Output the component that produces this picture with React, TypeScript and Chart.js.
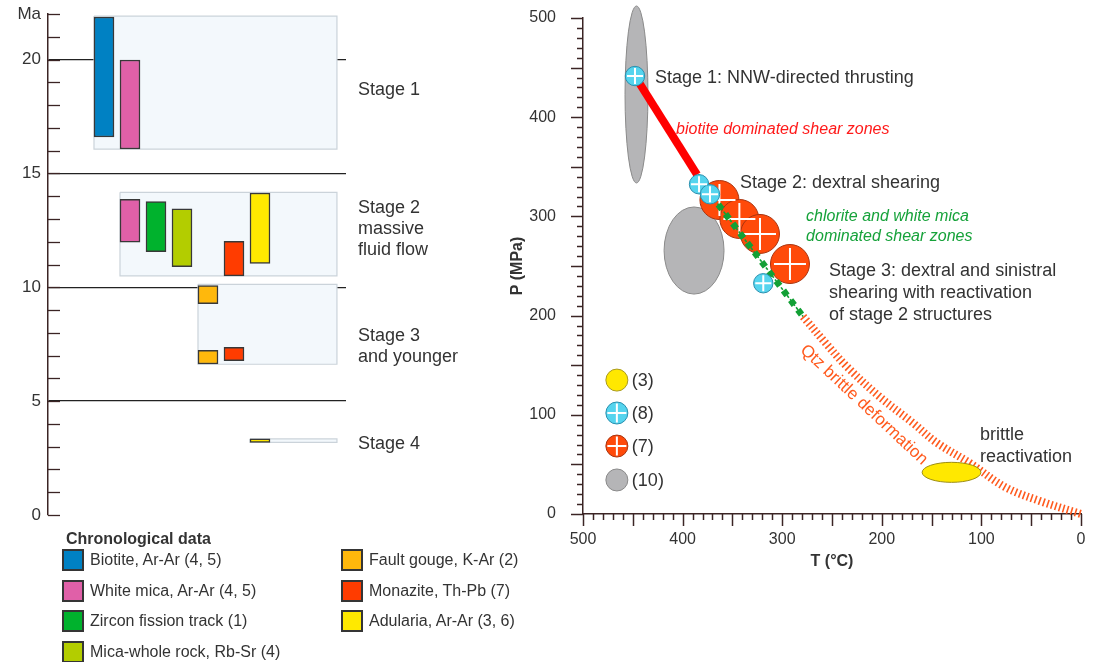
import React, { useEffect, useRef } from 'react';
import { Chart, registerables } from 'chart.js';

Chart.register(...registerables);

const FONT = '"Liberation Sans", Arial, Helvetica, sans-serif';
const TEXT = '#333333';
const AXIS = '#3b2424';

// ---------------- LEFT PANEL DATA (ages in Ma) ----------------
const mineralLabels = [
  'Biotite, Ar-Ar (4, 5)',
  'White mica, Ar-Ar (4, 5)',
  'Zircon fission track (1)',
  'Mica-whole rock, Rb-Sr (4)',
  'Fault gouge, K-Ar (2)',
  'Monazite, Th-Pb (7)',
  'Adularia, Ar-Ar (3, 6)',
];
const mineralColors = ['#0081c3', '#e060a8', '#00b22d', '#b3cd00', '#ffb80c', '#ff3c00', '#ffe900'];
const mineralColumn = [0, 1, 2, 3, 4, 5, 6];
const biotiteAges = [[16.6, 21.87]];
const whiteMicaAges = [[16.07, 19.98], [11.98, 13.86]];
const zirconAges = [[11.56, 13.76]];
const micaRockAges = [[10.9, 13.44]];
const gougeAges = [[9.28, 10.07], [6.63, 7.23]];
const monaziteAges = [[10.5, 12.02], [6.78, 7.36]];
const adulariaAges = [[11.05, 14.14], [3.19, 3.34]];
const mineralAges = [biotiteAges, whiteMicaAges, zirconAges, micaRockAges, gougeAges, monaziteAges, adulariaAges];

const stageLines = [['Stage 1'], ['Stage 2', 'massive', 'fluid flow'], ['Stage 3', 'and younger'], ['Stage 4']];
const stageFirstColumn = [0, 1, 4, 6];
const stageLastColumn = [8.96, 8.96, 8.96, 8.96];
const stageTop = [21.91, 14.17, 10.13, 3.34];
const stageBottom = [16.07, 10.5, 6.62, 3.19];
const stageLabelAge = [18.66, 13.48, 7.86, 3.12];

const ageMin = 0;
const ageMax = 22;
const ageMajor = [5, 10, 15, 20];

// ---------------- RIGHT PANEL DATA (T in °C, P in MPa) ----------------
const cyanT = [447.8, 383.5, 372.5, 319];
const cyanP = [441.5, 332.4, 322.3, 232.6];
const redT = [363, 343, 322.3, 292.2];
const redP = [316.5, 297.4, 282.3, 252];
const grayEllT = [446.3, 388.5];
const grayEllP = [422.9, 265.6];
const grayEllRT = [11.5, 30.1];
const grayEllRP = [89.2, 43.9];
const yellowEllT = [130];
const yellowEllP = [42];
const yellowEllRT = [29.5];
const yellowEllRP = [10.1];
const biotitePathT = [447.8, 385.5];
const biotitePathP = [441.5, 342];
const chloritePathT = [386, 279];
const chloritePathP = [341, 199];
const qtzPathT = [279, 257, 235, 202, 169, 145, 111, 76, 41, 0];
const qtzPathP = [199, 173, 148.5, 118, 92, 72, 51, 27, 13, 0];
const legendT = [466, 466, 466, 466];
const legendP = [135, 101.8, 68.5, 34.3];
const legendLabels = ['(3)', '(8)', '(7)', '(10)'];

const noteText = [
  ['Stage 1: NNW-directed thrusting'],
  ['biotite dominated shear zones'],
  ['Stage 2: dextral shearing'],
  ['chlorite and white mica', 'dominated shear zones'],
  ['Stage 3: dextral and sinistral', 'shearing with reactivation', 'of stage 2 structures'],
  ['brittle', 'reactivation'],
];
const noteT = [427.7, 406.6, 342.4, 276, 253, 101.4];
const noteP = [439.5, 388, 333.7, 299.4, 245, 79.6];
const noteColor = [TEXT, '#ff1a1a', TEXT, '#16a23a', TEXT, TEXT];
const noteItalic = [false, true, false, true, false, false];
const qtzLabel = 'Qtz brittle deformation';
const qtzLabelT = 218;
const qtzLabelP = 110;

const COLOR_CYAN = '#55d4ee';
const COLOR_RED = '#ff4a0a';
const COLOR_GRAY = '#b5b5b7';
const COLOR_YELLOW = '#ffe800';
const COLOR_QTZ = '#ff5a1e';
const COLOR_GREEN = '#12a035';

const BAR_HALF = 0.385;

// ---------------- LEFT CHART ----------------
function leftConfig(): any {
  const boxFills = stageTop.map((top, i) => ({
    type: 'line',
    data: [
      { x: stageFirstColumn[i] - BAR_HALF, y: top },
      { x: stageLastColumn[i], y: top },
    ],
    fill: { value: stageBottom[i] },
    backgroundColor: '#f3f8fc',
    borderWidth: 0,
    borderColor: 'rgba(0,0,0,0)',
    pointRadius: 0,
    order: 20,
  }));
  const boxOutlines = stageTop.map((top, i) => {
    const l = stageFirstColumn[i] - BAR_HALF;
    const r = stageLastColumn[i];
    const b = stageBottom[i];
    return {
      type: 'line',
      data: [
        { x: l, y: top },
        { x: r, y: top },
        { x: r, y: b },
        { x: l, y: b },
        { x: l, y: top },
      ],
      fill: false,
      borderColor: '#cbd3da',
      borderWidth: 1.2,
      pointRadius: 0,
      tension: 0,
      order: 19,
    };
  });
  const bars = mineralAges.map((ages, i) => ({
    type: 'bar',
    label: mineralLabels[i],
    data: ages.map((a) => ({ x: mineralColumn[i], y: a })),
    backgroundColor: mineralColors[i],
    borderColor: '#383838',
    borderWidth: 1.5,
    borderSkipped: false,
    barThickness: 20,
    grouped: false,
    order: 1,
  }));

  const decor = {
    id: 'leftDecor',
    afterDraw(chart: any) {
      const { ctx, chartArea } = chart;
      const y = chart.scales.y;
      ctx.save();
      ctx.strokeStyle = AXIS;
      ctx.lineWidth = 1.3;
      for (let v = ageMin; v <= ageMax; v++) {
        const py = Math.round(y.getPixelForValue(v)) + 0.5;
        ctx.beginPath();
        ctx.moveTo(chartArea.left, py);
        ctx.lineTo(chartArea.left + 12, py);
        ctx.stroke();
      }
      ctx.fillStyle = TEXT;
      ctx.font = `18px ${FONT}`;
      ctx.textAlign = 'left';
      ctx.textBaseline = 'middle';
      stageLines.forEach((lines, i) => {
        const py = y.getPixelForValue(stageLabelAge[i]);
        lines.forEach((t, j) => ctx.fillText(t, chartArea.right + 12, py + j * 21));
      });
      ctx.restore();
    },
  };

  return {
    type: 'bar',
    data: { datasets: [...boxFills, ...boxOutlines, ...bars] },
    options: {
      responsive: false,
      animation: false,
      layout: { autoPadding: false, padding: { left: 0, right: 203, top: 14, bottom: 147 } },
      plugins: { legend: { display: false }, tooltip: { enabled: false } },
      scales: {
        x: { type: 'linear', min: -2.154, max: 9.308, display: false, offset: false },
        y: {
          type: 'linear',
          min: ageMin,
          max: ageMax,
          afterFit: (s: any) => {
            s.width = 48;
          },
          border: { display: true, color: AXIS, width: 1.5 },
          grid: {
            drawTicks: true,
            tickLength: 7,
            tickColor: 'rgba(0,0,0,0)',
            lineWidth: 1.3,
            color: (c: any) =>
              c.tick && ageMajor.includes(c.tick.value) ? '#222222' : 'rgba(0,0,0,0)',
          },
          ticks: {
            stepSize: 1,
            autoSkip: false,
            padding: 0,
            color: TEXT,
            font: { family: FONT, size: 17 },
            callback: (v: number) => (v === ageMax ? 'Ma' : v % 5 === 0 ? String(v) : ''),
          },
        },
      },
    },
    plugins: [decor],
  };
}

// ---------------- RIGHT CHART ----------------
function rightConfig(): any {
  const pts = (ts: number[], ps: number[]) => ts.map((t, i) => ({ x: t, y: ps[i] }));
  const datasets: any[] = [
    {
      type: 'line',
      data: pts(biotitePathT, biotitePathP),
      borderColor: '#ff0000',
      borderWidth: 8,
      borderCapStyle: 'butt',
      pointRadius: 0,
      fill: false,
      order: 10,
    },
    {
      data: pts(redT, redP),
      pointStyle: 'circle',
      pointRadius: 19.5,
      pointHoverRadius: 19.5,
      pointBackgroundColor: COLOR_RED,
      pointBorderColor: '#a83410',
      pointBorderWidth: 1,
      order: 9,
    },
    {
      data: pts(redT, redP),
      pointStyle: 'cross',
      pointRadius: 16,
      pointHoverRadius: 16,
      pointBorderColor: '#ffffff',
      pointBorderWidth: 2,
      order: 8,
    },
    {
      type: 'line',
      data: pts(chloritePathT, chloritePathP),
      borderColor: COLOR_GREEN,
      borderWidth: 1.6,
      borderDash: [3, 2],
      pointRadius: 0,
      fill: false,
      order: 7,
    },
    {
      type: 'line',
      data: pts(chloritePathT, chloritePathP),
      borderColor: COLOR_GREEN,
      borderWidth: 6.5,
      borderDash: [6, 6],
      borderCapStyle: 'butt',
      pointRadius: 0,
      fill: false,
      order: 6,
    },
    {
      type: 'line',
      data: pts(qtzPathT, qtzPathP),
      borderColor: COLOR_QTZ,
      borderWidth: 8,
      borderDash: [1.6, 2.6],
      borderCapStyle: 'butt',
      tension: 0.35,
      pointRadius: 0,
      fill: false,
      order: 6,
    },
    {
      data: pts(cyanT, cyanP),
      pointStyle: 'circle',
      pointRadius: 9.7,
      pointHoverRadius: 9.7,
      pointBackgroundColor: COLOR_CYAN,
      pointBorderColor: '#2a8fae',
      pointBorderWidth: 1,
      order: 3,
    },
    {
      data: pts(cyanT, cyanP),
      pointStyle: 'cross',
      pointRadius: 8,
      pointHoverRadius: 8,
      pointBorderColor: '#ffffff',
      pointBorderWidth: 2,
      order: 2,
    },
    {
      data: pts(legendT, legendP),
      pointStyle: 'circle',
      pointRadius: 11,
      pointHoverRadius: 11,
      pointBackgroundColor: [COLOR_YELLOW, COLOR_CYAN, COLOR_RED, COLOR_GRAY],
      pointBorderColor: ['#a99a22', '#2a8fae', '#a83410', '#8a8a8a'],
      pointBorderWidth: 1,
      order: 1,
    },
    {
      data: pts(legendT.slice(1, 3), legendP.slice(1, 3)),
      pointStyle: 'cross',
      pointRadius: 9.5,
      pointHoverRadius: 9.5,
      pointBorderColor: '#ffffff',
      pointBorderWidth: 2,
      order: 0,
    },
  ];
  datasets.forEach((d) => (d.clip = false));

  const drawEllipses = (chart: any, ts: number[], ps: number[], rts: number[], rps: number[], fill: string, stroke: string) => {
    const { ctx } = chart;
    const xs = chart.scales.x;
    const ys = chart.scales.y;
    ctx.save();
    ts.forEach((t, i) => {
      const cx = xs.getPixelForValue(t);
      const cy = ys.getPixelForValue(ps[i]);
      const rx = Math.abs(xs.getPixelForValue(t + rts[i]) - cx);
      const ry = Math.abs(ys.getPixelForValue(ps[i] + rps[i]) - cy);
      ctx.beginPath();
      ctx.ellipse(cx, cy, rx, ry, 0, 0, Math.PI * 2);
      ctx.fillStyle = fill;
      ctx.fill();
      ctx.strokeStyle = stroke;
      ctx.lineWidth = 1;
      ctx.stroke();
    });
    ctx.restore();
  };

  const decor = {
    id: 'rightDecor',
    beforeDatasetsDraw(chart: any) {
      drawEllipses(chart, grayEllT, grayEllP, grayEllRT, grayEllRP, COLOR_GRAY, '#8a8a8a');
    },
    afterDatasetsDraw(chart: any) {
      drawEllipses(chart, yellowEllT, yellowEllP, yellowEllRT, yellowEllRP, COLOR_YELLOW, '#9c8d14');
    },
    afterDraw(chart: any) {
      const { ctx, chartArea } = chart;
      const xs = chart.scales.x;
      const ys = chart.scales.y;
      ctx.save();
      ctx.strokeStyle = AXIS;
      ctx.lineWidth = 1.5;
      for (let v = 0; v <= 500; v += 10) {
        const len = v % 50 === 0 ? 12 : 6;
        const px = Math.round(xs.getPixelForValue(v)) + 0.5;
        ctx.beginPath();
        ctx.moveTo(px, chartArea.bottom);
        ctx.lineTo(px, chartArea.bottom + len);
        ctx.stroke();
        const py = Math.round(ys.getPixelForValue(v)) + 0.5;
        ctx.beginPath();
        ctx.moveTo(chartArea.left, py);
        ctx.lineTo(chartArea.left - len, py);
        ctx.stroke();
      }
      ctx.textAlign = 'left';
      ctx.textBaseline = 'middle';
      noteText.forEach((lines, i) => {
        const x = xs.getPixelForValue(noteT[i]);
        const y = ys.getPixelForValue(noteP[i]);
        ctx.fillStyle = noteColor[i];
        ctx.font = noteItalic[i] ? `italic 16px ${FONT}` : `18px ${FONT}`;
        const lh = noteItalic[i] ? 20 : 22;
        lines.forEach((t, j) => ctx.fillText(t, x, y + j * lh));
      });
      ctx.fillStyle = TEXT;
      ctx.font = `18px ${FONT}`;
      legendLabels.forEach((t, i) => {
        ctx.fillText(t, xs.getPixelForValue(legendT[i]) + 15, ys.getPixelForValue(legendP[i]) + 1);
      });
      ctx.save();
      ctx.translate(xs.getPixelForValue(qtzLabelT), ys.getPixelForValue(qtzLabelP));
      ctx.rotate((43 * Math.PI) / 180);
      ctx.textAlign = 'center';
      ctx.fillStyle = COLOR_QTZ;
      ctx.font = `17px ${FONT}`;
      ctx.fillText(qtzLabel, 0, 0);
      ctx.restore();
      ctx.restore();
    },
  };

  return {
    type: 'scatter',
    data: { datasets },
    options: {
      responsive: false,
      animation: false,
      layout: { autoPadding: false, padding: { left: 0, right: 17, top: 18, bottom: 0 } },
      plugins: { legend: { display: false }, tooltip: { enabled: false } },
      scales: {
        x: {
          type: 'linear',
          reverse: true,
          min: 0,
          max: 500,
          afterFit: (s: any) => {
            s.height = 148;
          },
          border: { display: true, color: AXIS, width: 1.5 },
          grid: { display: true, drawOnChartArea: false, drawTicks: true, tickLength: 16, tickColor: 'rgba(0,0,0,0)' },
          ticks: {
            stepSize: 10,
            autoSkip: false,
            maxRotation: 0,
            padding: 0,
            color: TEXT,
            font: { family: FONT, size: 16 },
            callback: (v: number) => (v % 100 === 0 ? String(v) : ''),
          },
          title: {
            display: true,
            text: 'T (°C)',
            color: TEXT,
            font: { family: FONT, size: 16, weight: 'bold' },
            padding: { top: 0, bottom: 91 },
          },
        },
        y: {
          type: 'linear',
          min: 0,
          max: 500,
          afterFit: (s: any) => {
            s.width = 93;
          },
          border: { display: true, color: AXIS, width: 1.5 },
          grid: { display: true, drawOnChartArea: false, drawTicks: true, tickLength: 27, tickColor: 'rgba(0,0,0,0)' },
          ticks: {
            stepSize: 10,
            autoSkip: false,
            padding: 0,
            color: TEXT,
            font: { family: FONT, size: 16 },
            callback: (v: number) => (v % 100 === 0 ? String(v) : ''),
          },
          title: {
            display: true,
            text: 'P (MPa)',
            color: TEXT,
            font: { family: FONT, size: 16, weight: 'bold' },
            padding: { top: 18, bottom: 0 },
          },
        },
      },
    },
    plugins: [decor],
  };
}

// ---------------- LEFT LEGEND (HTML) ----------------
const legendColumnX = [62, 341];
const legendRowCenter = [560, 591, 621, 652];
const legendPerColumn = 4;

export default function App() {
  const leftRef = useRef<HTMLCanvasElement>(null);
  const rightRef = useRef<HTMLCanvasElement>(null);

  useEffect(() => {
    const left = new Chart(leftRef.current as HTMLCanvasElement, leftConfig());
    const right = new Chart(rightRef.current as HTMLCanvasElement, rightConfig());
    return () => {
      left.destroy();
      right.destroy();
    };
  }, []);

  return (
    <div
      style={{
        position: 'absolute',
        left: 0,
        top: 0,
        width: 1098,
        height: 662,
        background: '#ffffff',
        fontFamily: FONT,
        overflow: 'hidden',
      }}
    >
      <canvas
        ref={leftRef}
        width={549}
        height={662}
        style={{ position: 'absolute', left: 0, top: 0, width: 549, height: 662 }}
      />
      <canvas
        ref={rightRef}
        width={608}
        height={662}
        style={{ position: 'absolute', left: 490, top: 0, width: 608, height: 662 }}
      />
      <div
        style={{
          position: 'absolute',
          left: 66,
          top: 529,
          fontSize: 16,
          lineHeight: '20px',
          fontWeight: 'bold',
          color: TEXT,
          whiteSpace: 'nowrap',
        }}
      >
        Chronological data
      </div>
      {mineralLabels.map((label, i) => {
        const col = Math.floor(i / legendPerColumn);
        const row = i % legendPerColumn;
        return (
          <div
            key={label}
            style={{
              position: 'absolute',
              left: legendColumnX[col],
              top: legendRowCenter[row] - 11,
              height: 22,
              display: 'flex',
              alignItems: 'center',
              whiteSpace: 'nowrap',
            }}
          >
            <div
              style={{
                width: 22,
                height: 22,
                boxSizing: 'border-box',
                border: '2px solid #353535',
                background: mineralColors[i],
                marginRight: 6,
              }}
            />
            <span style={{ fontSize: 16, color: TEXT, lineHeight: '22px' }}>{label}</span>
          </div>
        );
      })}
    </div>
  );
}
